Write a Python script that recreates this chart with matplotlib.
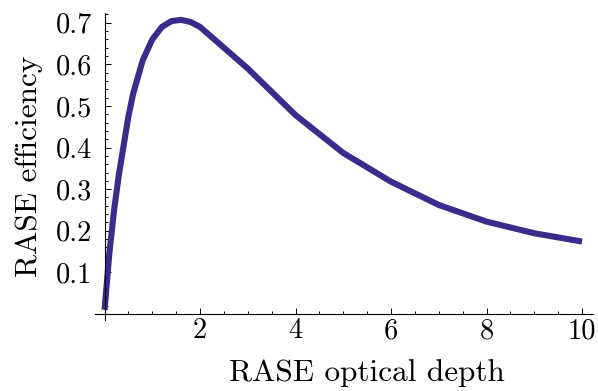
import matplotlib
matplotlib.use('Agg')
import matplotlib.pyplot as plt
from matplotlib.ticker import FixedLocator, MultipleLocator, FuncFormatter

# RASE optical depth vs efficiency
DEPTH = [0, 0.1, 0.2, 0.3, 0.4, 0.5, 0.6, 0.8, 1.0, 1.2, 1.4, 1.6, 1.8, 2,
         3, 4, 5, 6, 7, 8, 9, 10]
EFFICIENCY = [0.01, 0.145, 0.25, 0.335, 0.405, 0.475, 0.53, 0.61, 0.66,
              0.69, 0.704, 0.707, 0.702, 0.69,
              0.59, 0.478, 0.387, 0.318, 0.262, 0.222, 0.194, 0.174]

X_MAJOR = [0, 2, 4, 6, 8, 10]
Y_MAJOR = [0.1, 0.2, 0.3, 0.4, 0.5, 0.6, 0.7]

plt.rcParams['font.family'] = ['cmr10', 'DejaVu Serif']
plt.rcParams['axes.formatter.use_mathtext'] = True

W, H = 598, 391
fig = plt.figure(figsize=(W / 100, H / 100), dpi=100)
ax = fig.add_axes([95 / W, 1 - 320.2 / H, 498 / W, 307 / H])

ax.plot(DEPTH, EFFICIENCY, color='#3b2b8c', lw=4.4,
        solid_capstyle='butt', solid_joinstyle='round')

ax.set_xlim(-0.2, 10.23)
ax.set_ylim(-0.015, 0.723)

for side in ('top', 'right'):
    ax.spines[side].set_visible(False)
ax.spines['left'].set_position(('data', 0))
ax.spines['bottom'].set_position(('data', 0))
for side in ('left', 'bottom'):
    ax.spines[side].set_linewidth(0.8)

ax.xaxis.set_major_locator(FixedLocator(X_MAJOR))
ax.xaxis.set_minor_locator(MultipleLocator(0.5))
ax.xaxis.set_major_formatter(FuncFormatter(lambda v, p: '' if v == 0 else f'{v:g}'))
ax.yaxis.set_major_locator(FixedLocator(Y_MAJOR))
ax.yaxis.set_minor_locator(MultipleLocator(0.02))
ax.yaxis.set_major_formatter(FuncFormatter(lambda v, p: f'{v:.1f}'))

ax.tick_params(which='both', direction='in', width=0.7, labelsize=20.5)
ax.tick_params(which='major', length=4)
ax.tick_params(which='minor', length=2.2)
ax.tick_params(axis='x', pad=3)
ax.tick_params(axis='y', pad=9)

ax.set_xlabel('RASE optical depth', fontsize=22.5)
ax.xaxis.set_label_coords(0.546, -0.126)
ax.set_ylabel('RASE efficiency', fontsize=22.5)
ax.yaxis.set_label_coords(-0.105, 0.5)

fig.savefig('out.png', dpi=100)
